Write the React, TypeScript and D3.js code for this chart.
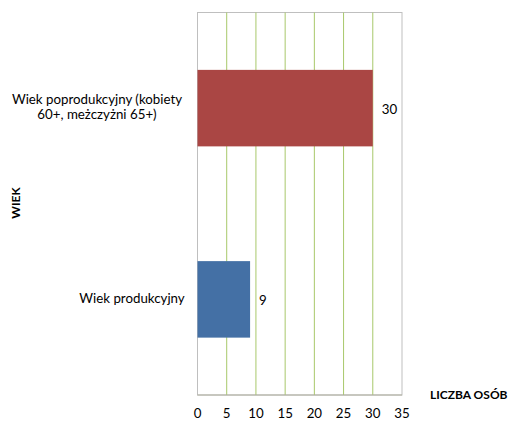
import React from 'react'
import * as d3 from 'd3'

// data
const categories = ['Wiek poprodukcyjny (kobiety 60+, meżczyżni 65+)', 'Wiek produkcyjny']
const categoryLines = [['Wiek poprodukcyjny (kobiety', '60+, meżczyżni 65+)'], ['Wiek produkcyjny']]
const values = [30, 9]
const barColors = ['#AA4644', '#4470A5']
const xTicks = [0, 5, 10, 15, 20, 25, 30, 35]

const width = 509
const height = 421
const plot = { left: 197.5, right: 402, top: 12.5, bottom: 395 }
const font = 'Lato, "Open Sans", sans-serif'

export default function App() {
  const x = d3.scaleLinear().domain([0, 35]).range([plot.left, plot.right])
  const y = d3.scaleBand()
    .domain(categories)
    .range([plot.top, plot.bottom])
    .paddingInner(0.6)
    .paddingOuter(0.3)

  return (
    <svg width={width} height={height}
      style={{ position: 'absolute', left: 0, top: 0, background: '#fff' }}
      fontFamily={font}>
      {/* plot border */}
      <rect x={plot.left} y={plot.top} width={plot.right - plot.left} height={plot.bottom - plot.top}
        fill='none' stroke='#BFBFBF' strokeWidth={1} />
      {/* gridlines */}
      {xTicks.filter(t => t > 0 && t < 35).map(t => (
        <line key={t} x1={x(t)} x2={x(t)} y1={plot.top} y2={plot.bottom}
          stroke='#A8C86A' strokeWidth={1} />
      ))}
      {/* bars */}
      {categories.map((c, i) => (
        <g key={c}>
          <rect x={x(0)} y={y(c)} width={x(values[i]) - x(0)} height={y.bandwidth()}
            fill={barColors[i]} />
          <text x={x(values[i]) + 9} y={y(c)! + y.bandwidth() / 2 + 2} fontSize={13.3}
            dominantBaseline='middle' fill='#000'>{values[i]}</text>
          <text textAnchor='middle' fontSize={13.3} fill='#000'>
            {categoryLines[i].map((line, j) => (
              <tspan key={j} x={i === 0 ? 97 : 132}
                y={y(c)! + y.bandwidth() / 2 - (categoryLines[i].length - 1) * 7.5 + j * 15}
                dominantBaseline='middle'>{line}</tspan>
            ))}
          </text>
        </g>
      ))}
      {/* bottom axis line */}
      <line x1={plot.left} x2={plot.right} y1={plot.bottom} y2={plot.bottom} stroke='#B0B0A0' strokeWidth={1.2} />
      {/* x tick labels */}
      {xTicks.map(t => (
        <text key={t} x={x(t)} y={415} textAnchor='middle' dominantBaseline='middle'
          fontSize={13.3} fill='#000'>{t}</text>
      ))}
      {/* axis titles */}
      <text x={430} y={396} dominantBaseline='middle' fontSize={12} fontWeight='bold' fill='#000'>LICZBA OSÓB</text>
      <text transform='translate(17,203) rotate(-90)' textAnchor='middle' dominantBaseline='middle'
        fontSize={12} fontWeight='bold' fill='#000'>WIEK</text>
    </svg>
  )
}
